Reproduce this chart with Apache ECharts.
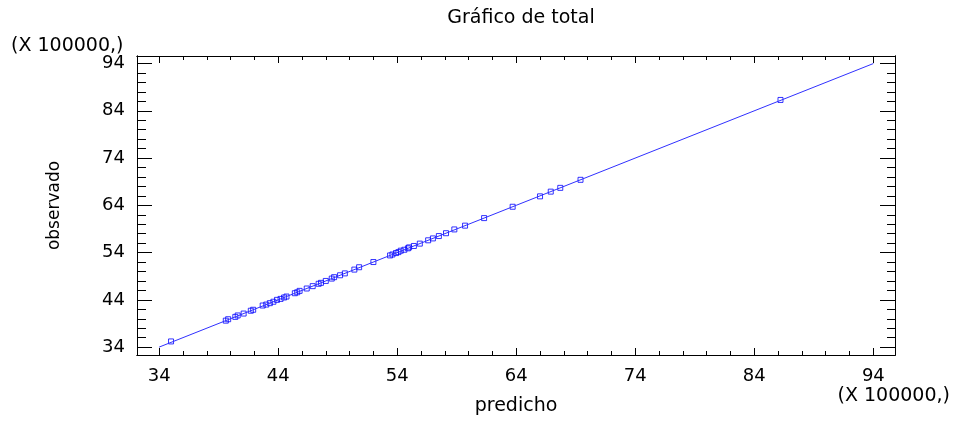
<!DOCTYPE html>
<html>
<head>
<meta charset="utf-8">
<script src="https://cdn.jsdelivr.net/npm/echarts@6/dist/echarts.min.js"></script>
<style>html,body{margin:0;padding:0;background:#fff;}#c{width:953px;height:421px;}</style>
</head>
<body>
<div id="c"></div>
<script>
var titleText = 'Gráfico de total';
var xName = 'predicho';
var yName = 'observado';
var unitLabel = '(X 100000,)';
var majorTicks = [34, 44, 54, 64, 74, 84, 94];
var minorTicks = [36, 38, 40, 42, 46, 48, 50, 52, 56, 58, 60, 62, 66, 68, 70, 72, 76, 78, 80, 82, 86, 88, 90, 92];
var diagonal = [[34, 34], [94, 94]];
var predicho = [35.0, 39.6, 39.8, 40.4, 40.6, 41.1, 41.7, 41.9, 42.7, 43.0, 43.3, 43.6, 43.9, 44.2, 44.5, 44.7, 45.4, 45.6, 45.8, 46.4, 46.9, 47.4, 47.6, 48.0, 48.5, 48.7, 49.2, 49.6, 50.4, 50.8, 52.0, 53.4, 53.6, 53.9, 54.1, 54.3, 54.6, 54.9, 55.0, 55.4, 55.9, 56.6, 57.0, 57.5, 58.1, 58.8, 59.7, 61.3, 63.7, 66.0, 66.9, 67.7, 69.4, 86.2];
var observado = [35.2, 39.6, 39.9, 40.4, 40.7, 41.1, 41.7, 41.9, 42.8, 43.0, 43.3, 43.6, 44.0, 44.2, 44.5, 44.7, 45.4, 45.6, 45.9, 46.4, 46.9, 47.4, 47.6, 48.0, 48.5, 48.8, 49.2, 49.6, 50.4, 50.9, 52.0, 53.4, 53.6, 53.9, 54.1, 54.4, 54.6, 54.9, 55.1, 55.4, 55.9, 56.6, 57.0, 57.5, 58.1, 58.9, 59.7, 61.3, 63.7, 65.9, 66.9, 67.7, 69.4, 86.3];

var FONT = 'DejaVu Sans';
var XMIN = 32.14, XMAX = 95.82, YMIN = 32.33, YMAX = 95.6;
var points = predicho.map(function (p, i) { return [p, observado[i]]; });

function axis(dim, pos, ticks, len, main) {
  var a = {
    type: 'value', position: pos,
    min: dim === 'x' ? XMIN : YMIN, max: dim === 'x' ? XMAX : YMAX,
    axisLine: { show: true, onZero: false, lineStyle: { color: '#000', width: 1 } },
    axisTick: { show: true, inside: true, length: len, customValues: ticks, lineStyle: { color: '#000', width: 1 } },
    axisLabel: { show: false },
    splitLine: { show: false },
    minorTick: { show: false }
  };
  if (main) {
    a.axisLabel = {
      show: true, customValues: majorTicks, color: '#000',
      fontFamily: FONT, fontSize: 18, margin: dim === 'x' ? 12 : 12,
      formatter: function (v) { return String(Math.round(v)); }
    };
    a.name = dim === 'x' ? xName : yName;
    a.nameLocation = 'middle';
    a.nameTextStyle = { color: '#000', fontFamily: FONT, fontSize: dim === 'x' ? 19 : 17 };
    a.nameGap = dim === 'x' ? 42 : 74;
    if (dim === 'y') a.nameRotate = 90;
  }
  return a;
}

var chart = echarts.init(document.getElementById('c'), null, { renderer: 'canvas' });
chart.setOption({
  animation: false,
  backgroundColor: '#fff',
  title: {
    text: titleText, left: 516, top: 4, textAlign: 'center',
    textStyle: { color: '#000', fontFamily: FONT, fontSize: 19, fontWeight: 'normal' }
  },
  grid: { left: 137, right: 58, top: 56, bottom: 63, containLabel: false },
  xAxis: [
    axis('x', 'bottom', majorTicks, 7, true),
    axis('x', 'bottom', minorTicks, 4, false),
    axis('x', 'top', majorTicks, 7, false),
    axis('x', 'top', minorTicks, 4, false)
  ],
  yAxis: [
    axis('y', 'left', majorTicks, 15, true),
    axis('y', 'left', minorTicks, 9, false),
    axis('y', 'right', majorTicks, 15, false),
    axis('y', 'right', minorTicks, 8, false)
  ],
  graphic: [
    { type: 'text', left: 11, top: 37, style: { text: unitLabel, fill: '#000', font: '19px "DejaVu Sans"' } },
    { type: 'text', right: 3, top: 387, style: { text: unitLabel, fill: '#000', font: '19px "DejaVu Sans"' } }
  ],
  series: [
    {
      type: 'line', data: diagonal, xAxisIndex: 0, yAxisIndex: 0,
      showSymbol: false, symbol: 'none', silent: true,
      lineStyle: { color: '#3030ff', width: 1 }
    },
    {
      type: 'scatter', data: points, xAxisIndex: 0, yAxisIndex: 0,
      symbol: 'rect', symbolSize: 5,
      itemStyle: { color: 'rgba(0,0,0,0)', borderColor: '#0000ff', borderWidth: 1 }
    }
  ]
});
</script>
</body>
</html>
